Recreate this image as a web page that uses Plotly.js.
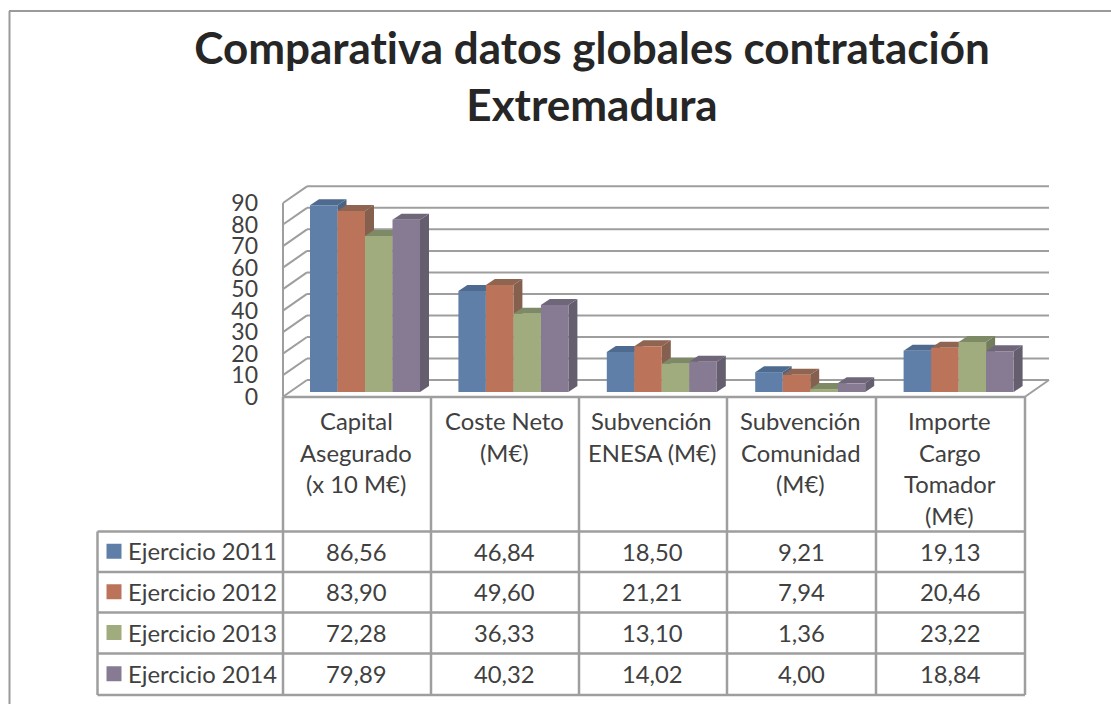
<!DOCTYPE html>
<html><head><meta charset="utf-8">
<script src="https://cdn.plot.ly/plotly-3.0.1.min.js"></script>
<style>html,body{margin:0;padding:0;background:#fff;overflow:hidden}#c{width:1111px;height:704px}text{font-variant-ligatures:none;font-feature-settings:"liga" 0}</style>
</head><body><div id="c"></div>
<script>
const chartTitle = "Comparativa datos globales contratación<br>Extremadura";
const categories = ["Capital<br>Asegurado<br>(x 10 M€)", "Coste Neto<br>(M€)", "Subvención<br>ENESA (M€)", "Subvención<br>Comunidad<br>(M€)", "Importe<br>Cargo<br>Tomador<br>(M€)"];
const seriesNames = ["Ejercicio 2011", "Ejercicio 2012", "Ejercicio 2013", "Ejercicio 2014"];
const v2011 = [86.56, 46.84, 18.50, 9.21, 19.13];
const v2012 = [83.90, 49.60, 21.21, 7.94, 20.46];
const v2013 = [72.28, 36.33, 13.10, 1.36, 23.22];
const v2014 = [79.89, 40.32, 14.02, 4.00, 18.84];
const yTicks = [0, 10, 20, 30, 40, 50, 60, 70, 80, 90];
const frontColors = ["#5f7fa8", "#bb7459", "#a0ab7e", "#877a93"];
const topColors = ["#4e6a8e", "#8f6450", "#7e8a66", "#6f6679"];
const sideColors = ["#4c6484", "#85604f", "#737d5e", "#645e6e"];

const series = [v2011, v2012, v2013, v2014];
const W = 1111, H = 704;
const GREY = "#9e9e9e", TEXT = "#404040", FONT = "Lato, 'Open Sans', sans-serif";
const xScale = 148.4, xZero = 365;            // px per category, px of category 0
const yF = 2.152, yF0 = 396.7;                // front-wall axis
const yB = 2.157, yB0 = 392;                  // bar axis
const barW = 27.5 / xScale;
const dxBar = 9 / xScale, dyBar = 6 / yB;     // bar depth
const dxWall = 24 / xScale, dyWall = 16.7 / yF; // chart depth
const px = p => p / W, py = p => 1 - p / H;
const xOf = p => (p - xZero) / xScale;

const traces = series.map((vals, i) => ({
  type: "bar", name: seriesNames[i], x: categories.map((_, c) => c), y: vals,
  xaxis: "x", yaxis: "y2", marker: {color: frontColors[i], line: {width: 0}}, hoverinfo: "y+name"
}));

const shapes = [];
const line = {color: GREY, width: 2};
// walls and gridlines (drawn in front-axis units)
const xL = xOf(283), xR = xOf(1025);
yTicks.forEach(t => {
  shapes.push({type: "line", layer: "below", xref: "x", yref: "y", x0: xL, x1: xL + dxWall, y0: t, y1: t + dyWall, line});
  shapes.push({type: "line", layer: "below", xref: "x", yref: "y", x0: xL + dxWall, x1: xR + dxWall, y0: t + dyWall, y1: t + dyWall, line});
});
shapes.push({type: "line", layer: "below", xref: "x", yref: "y", x0: xR, x1: xR + dxWall, y0: 0, y1: dyWall, line});
shapes.push({type: "line", layer: "below", xref: "x", yref: "y", x0: xL, x1: xL, y0: 0, y1: 90, line});
// bar depth faces, painted left to right
categories.forEach((_, c) => {
  series.forEach((vals, i) => {
    const l = c - 2 * barW + i * barW, r = l + barW, v = vals[c];
    shapes.push({type: "path", layer: "below", xref: "x", yref: "y2", fillcolor: sideColors[i], line: {width: 0},
      path: `M${r} 0 L${r + dxBar} ${dyBar} L${r + dxBar} ${v + dyBar} L${r} ${v} Z`});
    shapes.push({type: "path", layer: "below", xref: "x", yref: "y2", fillcolor: topColors[i], line: {width: 0},
      path: `M${l} ${v} L${l + dxBar} ${v + dyBar} L${r + dxBar} ${v + dyBar} L${r} ${v} Z`});
  });
});
// data table
const colX = [283, 431, 579, 727, 876, 1025];
const rowY = [531.5, 572, 612.5, 653.5, 695];
const tableLine = {color: GREY, width: 2.5};
const seg = (x0, y0, x1, y1) => shapes.push({type: "line", xref: "paper", yref: "paper", x0: px(x0), x1: px(x1), y0: py(y0), y1: py(y1), line: tableLine});
colX.forEach(x => seg(x, 397, x, 695));
seg(283, 397, 1025, 397);
rowY.forEach(y => seg(97.5, y, 1025, y));
seg(97.5, 531.5, 97.5, 695);
// page frame
const frame = {color: "#9a9a9a", width: 2};
shapes.push({type: "line", xref: "paper", yref: "paper", x0: px(9), x1: 1, y0: py(11), y1: py(11), line: frame});
shapes.push({type: "line", xref: "paper", yref: "paper", x0: px(9.5), x1: px(9.5), y0: py(11), y1: 0, line: frame});

const annotations = [];
const txt = (text, xp, yp, anchor) => annotations.push({text, xref: "paper", yref: "paper", x: px(xp), y: py(yp),
  xanchor: anchor, yanchor: "middle", showarrow: false, font: {family: FONT, size: 23.8, color: TEXT}});
categories.forEach((label, c) => {
  const mid = (colX[c] + colX[c + 1]) / 2 - 1;
  label.split("<br>").forEach((ln, k) => txt(ln, mid, 421 + k * 31.7, "center"));
});
series.forEach((vals, i) => {
  const yc = (rowY[i] + rowY[i + 1]) / 2;
  shapes.push({type: "rect", xref: "paper", yref: "paper", x0: px(106.5), x1: px(121.5), y0: py(yc - 8), y1: py(yc + 7), fillcolor: frontColors[i], line: {width: 0}});
  txt(seriesNames[i], 125.5, yc - 0.5, "left");
  vals.forEach((v, c) => txt(v.toFixed(2).replace(".", ","), (colX[c] + colX[c + 1]) / 2 - 0.5, yc, "center"));
});

const layout = {
  width: W, height: H, autosize: false, margin: {l: 0, r: 0, t: 0, b: 0, pad: 0},
  paper_bgcolor: "#fff", plot_bgcolor: "rgba(0,0,0,0)", showlegend: false,
  barmode: "group", bargap: 1 - 4 * barW, bargroupgap: 0,
  title: {text: chartTitle, x: 592 / W, xanchor: "center", y: 1 - 64 / H, yanchor: "middle",
    font: {family: FONT, size: 44, weight: 700, color: "#262626"}},
  xaxis: {domain: [0, 1], range: [xOf(0), xOf(W)], visible: false, fixedrange: true},
  yaxis: {domain: [0, 1], range: [(yF0 - H) / yF, yF0 / yF], anchor: "free", position: 258 / W,
    tickmode: "array", tickvals: yTicks, ticktext: yTicks.map(String), ticks: "",
    showgrid: false, zeroline: false, showline: false, fixedrange: true,
    tickfont: {family: FONT, size: 23, color: TEXT}},
  yaxis2: {domain: [0, 1], overlaying: "y", range: [(yB0 - H) / yB, yB0 / yB], visible: false, fixedrange: true},
  shapes, annotations
};
Plotly.newPlot("c", traces, layout, {displayModeBar: false, responsive: false});
</script></body></html>
